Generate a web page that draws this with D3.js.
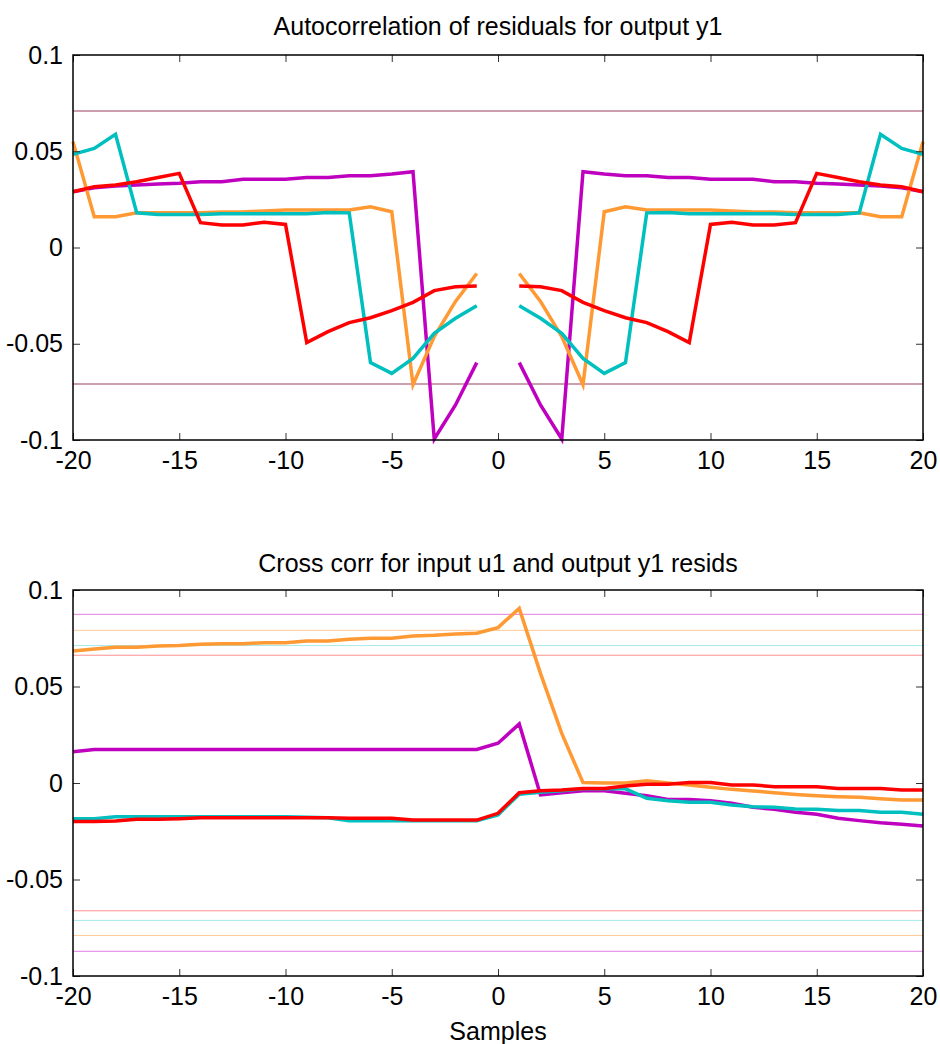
<!DOCTYPE html>
<html>
<head>
<meta charset="utf-8">
<script src="https://cdn.jsdelivr.net/npm/d3@7"></script>
<style>
  html, body { margin: 0; padding: 0; background: #fff; }
  text { font-family: "Liberation Sans", Arial, sans-serif; fill: #000; }
</style>
</head>
<body>
<svg id="chart" width="940" height="1044"></svg>
<script>
// ---------- DATA ----------
const lags = d3.range(-20, 21); // -20..20
const xTicks = [-20, -15, -10, -5, 0, 5, 10, 15, 20];
const xTickLabels = ["-20", "-15", "-10", "-5", "0", "5", "10", "15", "20"];
const yTicks = [-0.1, -0.05, 0, 0.05, 0.1];
const yTickLabels = ["-0.1", "-0.05", "0", "0.05", "0.1"];

const title1 = "Autocorrelation of residuals for output y1";
const title2 = "Cross corr for input u1 and output y1 resids";
const xLabel = "Samples";

// Autocorrelation (lag 0 omitted -> null)
const acMagenta = [0.029, 0.031, 0.032, 0.0325, 0.033, 0.0334, 0.0342, 0.0342, 0.0354, 0.0354, 0.0354, 0.0364, 0.0364, 0.0373, 0.0373, 0.0382, 0.0394, -0.0995, -0.0818, -0.0598,
  null,
  -0.0598, -0.0818, -0.0995, 0.0394, 0.0382, 0.0373, 0.0373, 0.0364, 0.0364, 0.0354, 0.0354, 0.0354, 0.0342, 0.0342, 0.0334, 0.033, 0.0325, 0.032, 0.031, 0.029];
const acOrange = [0.055, 0.016, 0.016, 0.018, 0.018, 0.018, 0.018, 0.0185, 0.0185, 0.019, 0.0195, 0.0195, 0.0195, 0.0195, 0.0212, 0.0186, -0.0713, -0.0463, -0.028, -0.0135,
  null,
  -0.0135, -0.028, -0.0463, -0.0713, 0.0186, 0.0212, 0.0195, 0.0195, 0.0195, 0.0195, 0.019, 0.0185, 0.0185, 0.018, 0.018, 0.018, 0.018, 0.016, 0.016, 0.055];
const acCyan = [0.0484, 0.0515, 0.0588, 0.018, 0.0172, 0.0172, 0.0172, 0.0175, 0.0175, 0.0175, 0.0175, 0.0175, 0.0182, 0.018, -0.0598, -0.0654, -0.0576, -0.0446, -0.0368, -0.0302,
  null,
  -0.0302, -0.0368, -0.0446, -0.0576, -0.0654, -0.0598, 0.018, 0.0182, 0.0175, 0.0175, 0.0175, 0.0175, 0.0175, 0.0172, 0.0172, 0.0172, 0.018, 0.0588, 0.0515, 0.0484];
const acRed = [0.029, 0.0316, 0.0325, 0.0342, 0.0364, 0.0385, 0.0129, 0.0117, 0.0117, 0.0131, 0.012, -0.0494, -0.0437, -0.039, -0.0365, -0.0328, -0.0285, -0.0224, -0.0204, -0.02,
  null,
  -0.02, -0.0204, -0.0224, -0.0285, -0.0328, -0.0365, -0.039, -0.0437, -0.0494, 0.012, 0.0131, 0.0117, 0.0117, 0.0129, 0.0385, 0.0364, 0.0342, 0.0325, 0.0316, 0.029];

const acConf = [0.0709, -0.0709];

// Cross correlation
const ccOrange = [0.0684, 0.0694, 0.0703, 0.0703, 0.071, 0.0712, 0.0719, 0.0722, 0.0722, 0.0727, 0.0727, 0.0736, 0.0736, 0.0745, 0.075, 0.075, 0.0762, 0.0765, 0.0772, 0.0776,
  0.0805, 0.0905, 0.0568, 0.0257, 0.0002, 0.0, 0.0, 0.0012, 0.0, -0.001, -0.0022, -0.0033, -0.0041, -0.005, -0.0059, -0.0066, -0.0071, -0.0074, -0.0081, -0.0088, -0.0088];
const ccMagenta = [0.0162, 0.0174, 0.0174, 0.0174, 0.0174, 0.0174, 0.0174, 0.0174, 0.0174, 0.0174, 0.0174, 0.0174, 0.0174, 0.0174, 0.0174, 0.0174, 0.0174, 0.0174, 0.0174, 0.0174,
  0.0206, 0.0306, -0.0062, -0.005, -0.004, -0.004, -0.0053, -0.0066, -0.0085, -0.0085, -0.0092, -0.0105, -0.0126, -0.0136, -0.0152, -0.0162, -0.0183, -0.0195, -0.0206, -0.0214, -0.0223];
const ccCyan = [-0.0185, -0.0185, -0.0175, -0.0175, -0.0175, -0.0175, -0.0175, -0.0175, -0.0175, -0.0175, -0.0175, -0.0178, -0.018, -0.0195, -0.0195, -0.0195, -0.0195, -0.0195, -0.0195, -0.0195,
  -0.0165, -0.0058, -0.0048, -0.004, -0.003, -0.003, -0.003, -0.0079, -0.0092, -0.01, -0.01, -0.0114, -0.0123, -0.0126, -0.0135, -0.0136, -0.0143, -0.0143, -0.0152, -0.0152, -0.0162];
const ccRed = [-0.02, -0.02, -0.0197, -0.0188, -0.0188, -0.0185, -0.018, -0.018, -0.018, -0.018, -0.018, -0.018, -0.018, -0.0183, -0.0183, -0.0183, -0.0192, -0.0192, -0.0192, -0.0192,
  -0.0157, -0.005, -0.004, -0.0036, -0.0028, -0.0028, -0.0016, -0.0007, -0.0007, 0.0002, 0.0002, -0.001, -0.001, -0.0019, -0.0019, -0.0019, -0.0028, -0.0028, -0.0028, -0.0036, -0.0036];

const ccConfMagenta = [0.0874, -0.0872];
const ccConfOrange = [0.0791, -0.079];
const ccConfCyan = [0.0712, -0.0712];
const ccConfRed = [0.0662, -0.0662];

// ---------- STYLE ----------
const C = { magenta: "#bf00bf", orange: "#ff9933", cyan: "#00bfbf", red: "#ff0000" };
const CL = { magenta: "#e27ce2", orange: "#ffcc99", cyan: "#a6e9e9", red: "#ff8f8f" };

const svg = d3.select("#chart");
const X0 = 73, X1 = 923;
const fontSize = 25;

function panel(top, bottom, title, titleY, series, conf) {
  const x = d3.scaleLinear().domain([-20, 20]).range([X0, X1]);
  const y = d3.scaleLinear().domain([-0.1, 0.1]).range([bottom, top]);
  const g = svg.append("g");

  conf.forEach(c => {
    c.vals.forEach(v => {
      g.append("line")
        .attr("x1", x(-20)).attr("x2", x(20))
        .attr("y1", y(v)).attr("y2", y(v))
        .attr("stroke", c.color).attr("stroke-width", c.w || 1);
    });
  });

  const line = d3.line()
    .defined(d => d[1] !== null)
    .x(d => x(d[0])).y(d => y(d[1]));
  series.forEach(s => {
    g.append("path")
      .datum(lags.map((k, i) => [k, s.vals[i]]))
      .attr("d", line)
      .attr("fill", "none")
      .attr("stroke", s.color)
      .attr("stroke-width", 3.5)
      .attr("stroke-linejoin", "miter");
  });

  const tl = 7;
  const axB = d3.axisBottom(x).tickValues(xTicks).tickSizeInner(-tl).tickSizeOuter(0).tickPadding(11)
    .tickFormat((d, i) => xTickLabels[i]);
  const axT = d3.axisTop(x).tickValues(xTicks).tickSizeInner(-tl).tickSizeOuter(0).tickFormat("");
  const axL = d3.axisLeft(y).tickValues(yTicks).tickSizeInner(-tl).tickSizeOuter(0).tickPadding(10)
    .tickFormat((d, i) => yTickLabels[i]);
  const axR = d3.axisRight(y).tickValues(yTicks).tickSizeInner(-tl).tickSizeOuter(0).tickFormat("");

  const gB = g.append("g").attr("transform", `translate(0,${bottom})`).call(axB);
  const gT = g.append("g").attr("transform", `translate(0,${top})`).call(axT);
  const gL = g.append("g").attr("transform", `translate(${X0},0)`).call(axL);
  const gR = g.append("g").attr("transform", `translate(${X1},0)`).call(axR);
  [gB, gT, gL, gR].forEach(a => {
    a.select(".domain").remove();
    a.selectAll(".tick line").attr("stroke", "#333").attr("stroke-width", 1);
    a.selectAll("text").style("font-size", fontSize + "px").attr("fill", "#000")
      .style("font-family", '"Liberation Sans", Arial, sans-serif');
  });

  g.append("rect").attr("x", X0).attr("y", top).attr("width", X1 - X0).attr("height", bottom - top)
    .attr("fill", "none").attr("stroke", "#000").attr("stroke-width", 1.5);

  g.append("text").attr("x", (X0 + X1) / 2).attr("y", titleY)
    .attr("text-anchor", "middle").style("font-size", fontSize + "px").text(title);
  return { x, y };
}

panel(55, 440, title1, 35, [
  { vals: acMagenta, color: C.magenta },
  { vals: acOrange, color: C.orange },
  { vals: acCyan, color: C.cyan },
  { vals: acRed, color: C.red }
], [
  { vals: acConf, color: "#9c3d62", w: 1.2 }
]);

panel(590, 976, title2, 572, [
  { vals: ccMagenta, color: C.magenta },
  { vals: ccOrange, color: C.orange },
  { vals: ccCyan, color: C.cyan },
  { vals: ccRed, color: C.red }
], [
  { vals: ccConfMagenta, color: CL.magenta },
  { vals: ccConfOrange, color: CL.orange },
  { vals: ccConfCyan, color: CL.cyan },
  { vals: ccConfRed, color: CL.red }
]);

svg.append("text").attr("x", (X0 + X1) / 2).attr("y", 1040)
  .attr("text-anchor", "middle").style("font-size", fontSize + "px").text(xLabel);
</script>
</body>
</html>
